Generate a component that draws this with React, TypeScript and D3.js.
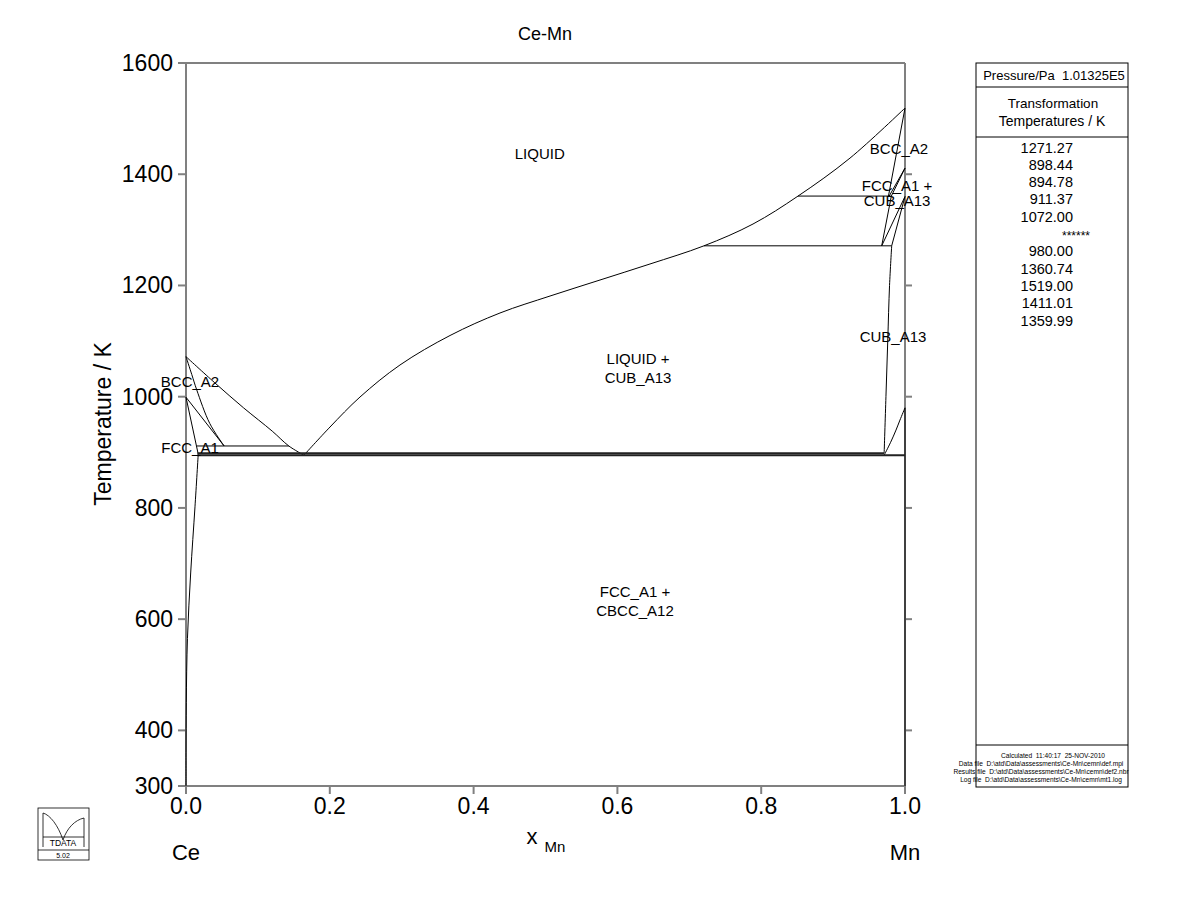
import React from 'react';
import * as d3 from 'd3';

const FONT = '"Liberation Sans", Arial, Helvetica, sans-serif';

// ---- axis ticks ----
const xTickValues = [0, 0.2, 0.4, 0.6, 0.8, 1.0];
const yTickValues = [300, 400, 600, 800, 1000, 1200, 1400, 1600];
const yRightTickValues = [400, 600, 800, 1000, 1200, 1400];

// ---- legend panel ----
const pressureText = 'Pressure/Pa  1.01325E5';
const transformationTemps = ['1271.27', '898.44', '894.78', '911.37', '1072.00', '******', '980.00', '1360.74', '1519.00', '1411.01', '1359.99'];
const footerLines = [
  'Calculated  11:40:17  25-NOV-2010',
  'Data file  D:\\atd\\Data\\assessments\\Ce-Mn\\cemn\\def.mpi',
  'Results file  D:\\atd\\Data\\assessments\\Ce-Mn\\cemn\\def2.nbr',
  'Log file  D:\\atd\\Data\\assessments\\Ce-Mn\\cemn\\mt1.log',
];

// ---- phase boundaries [x_Mn, T/K] ----
const ceLiquidus = [[0, 1072], [0.04, 1025], [0.08, 980], [0.12, 938], [0.143, 911.37], [0.164, 894.78]];
const bccSolidusCe = [[0, 1072], [0.008, 1040], [0.015, 1012], [0.033, 952], [0.053, 911.37]];
const bccFccBoundaryCe = [[0, 999], [0.053, 911.37]];
const fccBccBoundaryCe = [[0, 999], [0.017, 896.6]];
const fccSolvusCe = [[0.017, 896.6], [0.0125, 802], [0.0065, 683], [0.002, 565], [0.0004, 450], [0, 360], [0, 300]];
const metatecticCe = [[0.015, 911.37], [0.143, 911.37]];
const eutecticUpper = [[0.016, 898.44], [0.971, 898.44]];
const eutecticLower = [[0.016, 894.78], [1, 894.78]];
const cubLiquidus = [
  [0.164, 894.78], [0.2003, 945.5], [0.242, 999.4], [0.2976, 1057], [0.3672, 1110], [0.4367, 1150.5],
  [0.5063, 1181], [0.5758, 1209.8], [0.6453, 1238.6], [0.7204, 1271.27], [0.7886, 1310.5],
  [0.8512, 1360.74], [0.9235, 1429], [1, 1519],
];
const bccSolidusMn = [[1, 1519], [0.977, 1360.74]];
const bccFccBoundaryMn = [[1, 1411.01], [0.978, 1360.74]];
const fccBccBoundaryMn = [[1, 1411.01], [0.981, 1360.74]];
const fccSolidusMn = [[0.981, 1360.74], [0.9676, 1271.27]];
const fccCubBoundaryMn = [[1, 1359.99], [0.9676, 1271.27]];
const cubFccBoundaryMn = [[1, 1359.99], [0.9815, 1271.27]];
const metatecticMnHigh = [[0.8512, 1360.74], [0.981, 1360.74]];
const metatecticMnLow = [[0.7204, 1271.27], [0.9815, 1271.27]];
const cubSolidusMn = [[0.9815, 1271.27], [0.9785, 1200], [0.976, 1100], [0.9735, 1000], [0.971, 898.44]];
const cubCbccBoundaryMn = [[1, 980], [0.993, 958], [0.9875, 940], [0.98, 918], [0.971, 894.78]];
const cbccMn = [[1, 980], [1, 300]];

const boundaries = [
  ceLiquidus, bccSolidusCe, bccFccBoundaryCe, fccBccBoundaryCe, fccSolvusCe, metatecticCe,
  cubLiquidus, bccSolidusMn, bccFccBoundaryMn, fccBccBoundaryMn,
  fccSolidusMn, fccCubBoundaryMn, cubFccBoundaryMn, metatecticMnHigh, metatecticMnLow,
  cubSolidusMn, cubCbccBoundaryMn, cbccMn,
];
const invariantLines = [eutecticUpper, eutecticLower];

// ---- region labels [text, x_Mn, T] ----
const regionLabels: [string, number, number][] = [
  ['LIQUID', 0.492, 1438],
  ['BCC_A2', 0.0056, 1028],
  ['FCC_A1', 0.0056, 908],
  ['LIQUID +', 0.6287, 1069],
  ['CUB_A13', 0.6287, 1034],
  ['FCC_A1 +', 0.6245, 649],
  ['CBCC_A12', 0.6245, 615],
  ['BCC_A2', 0.9917, 1447],
  ['FCC_A1 +', 0.989, 1379],
  ['CUB_A13', 0.989, 1352],
  ['CUB_A13', 0.9833, 1109],
];

export default function App() {
  const x = d3.scaleLinear().domain([0, 1]).range([186, 905]);
  const y = d3.scaleLinear().domain([300, 1600]).range([786, 63]);
  const line = d3
    .line<number[]>()
    .x((d) => x(d[0]))
    .y((d) => y(d[1]))
    .curve(d3.curveCatmullRom.alpha(0.5));

  const axisColor = '#808080';
  const [x0, x1] = x.range();
  const [yb, yt] = y.range();

  return (
    <svg width={1200} height={923} style={{ position: 'absolute', left: 0, top: 0, background: '#fff' }} fontFamily={FONT}>
      <rect x={0} y={0} width={1200} height={923} fill="#fff" />
      {/* title */}
      <text x={545} y={34} fontSize={18} textAnchor="middle" dominantBaseline="central">Ce-Mn</text>

      {/* frame */}
      <g stroke={axisColor} strokeWidth={2} fill="none">
        <line x1={x0} y1={yt} x2={x1} y2={yt} />
        <line x1={x0} y1={yb} x2={x1} y2={yb} />
        <line x1={x0} y1={yt} x2={x0} y2={yb} />
        <line x1={x1} y1={yt} x2={x1} y2={yb} />
        {yTickValues.map((t) => (
          <line key={'yl' + t} x1={x0 - 8} y1={y(t)} x2={x0} y2={y(t)} />
        ))}
        {yRightTickValues.map((t) => (
          <line key={'yr' + t} x1={x1} y1={y(t)} x2={x1 + 7} y2={y(t)} />
        ))}
        {xTickValues.map((v) => (
          <line key={'xt' + v} x1={x(v)} y1={yb} x2={x(v)} y2={yb + 8} />
        ))}
      </g>

      {/* tick labels */}
      {yTickValues.map((t) => (
        <text key={'ylab' + t} x={x0 - 13} y={y(t)} fontSize={23} textAnchor="end" dominantBaseline="central">{t}</text>
      ))}
      {xTickValues.map((v) => (
        <text key={'xlab' + v} x={x(v)} y={806} fontSize={23} textAnchor="middle" dominantBaseline="central">{v.toFixed(1)}</text>
      ))}

      {/* axis titles */}
      <text transform="translate(103,424) rotate(-90)" fontSize={23} textAnchor="middle" dominantBaseline="central">Temperature / K</text>
      <text x={532} y={836} fontSize={22} textAnchor="middle" dominantBaseline="central">x</text>
      <text x={555} y={846} fontSize={15} textAnchor="middle" dominantBaseline="central">Mn</text>
      <text x={x0} y={852} fontSize={22} textAnchor="middle" dominantBaseline="central">Ce</text>
      <text x={x1} y={852} fontSize={22} textAnchor="middle" dominantBaseline="central">Mn</text>

      {/* phase boundaries */}
      <g stroke="#000" strokeWidth={1} fill="none">
        {boundaries.map((b, i) => (
          <path key={'b' + i} d={line(b) || ''} />
        ))}
      </g>
      <g stroke="#222" strokeWidth={2} fill="none">
        {invariantLines.map((b, i) => (
          <path key={'inv' + i} d={line(b) || ''} />
        ))}
      </g>

      {/* region labels */}
      {regionLabels.map(([t, xv, tv], i) => (
        <text key={'rl' + i} x={x(xv)} y={y(tv)} fontSize={15} textAnchor="middle" dominantBaseline="central">{t}</text>
      ))}

      {/* legend panel */}
      <g>
        <rect x={976} y={63} width={152} height={724} fill="none" stroke="#000" strokeWidth={1} />
        <line x1={976} y1={87} x2={1128} y2={87} stroke="#000" strokeWidth={1} />
        <line x1={976} y1={137} x2={1128} y2={137} stroke="#000" strokeWidth={1} />
        <line x1={976} y1={745} x2={1128} y2={745} stroke="#000" strokeWidth={1} />
        <text x={1054} y={75} fontSize={13} textAnchor="middle" dominantBaseline="central" style={{ whiteSpace: 'pre' }}>{pressureText}</text>
        <text x={1053} y={103} fontSize={13.5} textAnchor="middle" dominantBaseline="central">Transformation</text>
        <text x={1052} y={121} fontSize={14} textAnchor="middle" dominantBaseline="central">Temperatures / K</text>
        {transformationTemps.map((s, i) =>
          s.startsWith('*') ? (
            <text key={'tt' + i} x={1062} y={147.5 + 17.3 * i + 2} fontSize={12} textAnchor="start" dominantBaseline="central">{s}</text>
          ) : (
            <text key={'tt' + i} x={1073} y={147.5 + 17.3 * i} fontSize={14.5} textAnchor="end" dominantBaseline="central">{s}</text>
          )
        )}
        {footerLines.map((s, i) => (
          <text key={'fl' + i} x={i === 0 ? 1053 : 1041} y={755 + 8 * i} fontSize={6.6} textAnchor="middle" dominantBaseline="central" style={{ whiteSpace: 'pre' }}>{s}</text>
        ))}
      </g>

      {/* TDATA logo */}
      <g stroke="#000" fill="none" strokeWidth={0.8}>
        <rect x={38} y={808} width={51} height={52} />
        <line x1={38} y1={850} x2={89} y2={850} />
        <line x1={43} y1={813} x2={43} y2={847} />
        <path d="M43,813 C50,815 58,825 63,840" />
        <path d="M63,840 C67,828 75,820 84,818" />
        <line x1={84} y1={818} x2={84} y2={847} />
        <line x1={43} y1={837} x2={84} y2={837} />
      </g>
      <text x={63} y={843} fontSize={8.5} textAnchor="middle" dominantBaseline="central" fontFamily={FONT}>TDATA</text>
      <text x={63} y={855.5} fontSize={7} textAnchor="middle" dominantBaseline="central">5.02</text>
    </svg>
  );
}
